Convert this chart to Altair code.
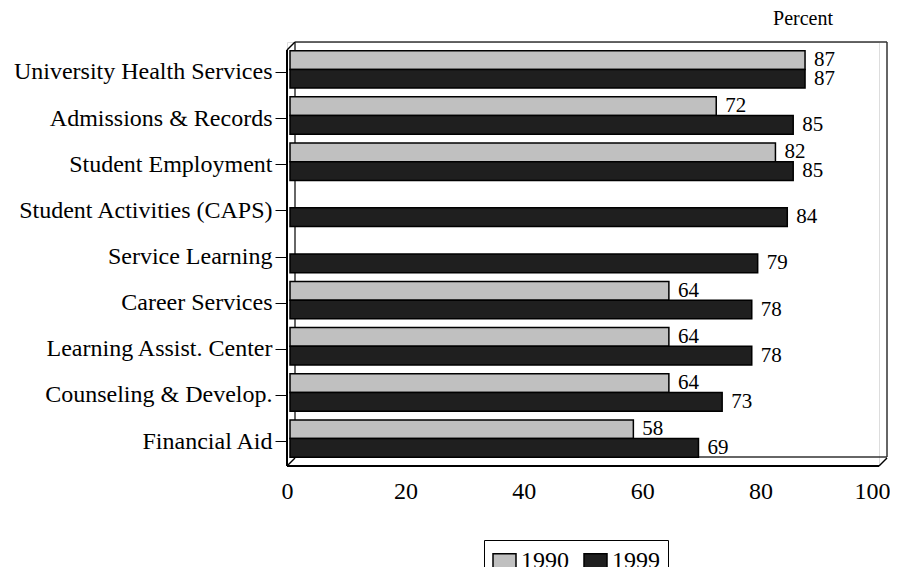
import altair as alt
import pandas as pd

categories = [
    "University Health Services",
    "Admissions & Records",
    "Student Employment",
    "Student Activities (CAPS)",
    "Service Learning",
    "Career Services",
    "Learning Assist. Center",
    "Counseling & Develop.",
    "Financial Aid",
]
values_1990 = [87, 72, 82, None, None, 64, 64, 64, 58]
values_1999 = [87, 85, 85, 84, 79, 78, 78, 73, 69]
years = ["1990", "1999"]
colors = ["#C0C0C0", "#1F1F1F"]
x_ticks = [0, 20, 40, 60, 80, 100]

rows = []
for c, a, b in zip(categories, values_1990, values_1999):
    if a is not None:
        rows.append({"category": c, "year": "1990", "value": a})
    if b is not None:
        rows.append({"category": c, "year": "1999", "value": b})
df = pd.DataFrame(rows)

FONT = "'Liberation Serif', 'Times New Roman', Times, serif"

x_enc = alt.X(
    "value:Q",
    scale=alt.Scale(domain=[0, 100]),
    axis=alt.Axis(values=x_ticks, title=None, domain=False, ticks=False, grid=False,
                  labelFlush=False, labelFontSize=24, labelFont=FONT, labelColor="black",
                  labelPadding=13,
                  labelOffset={"condition": {"test": "datum.value == 100", "value": -7},
                               "value": 0}),
)
y_enc = alt.Y(
    "category:N",
    sort=categories,
    scale=alt.Scale(range=[7.3, 422.7], paddingInner=0.19, paddingOuter=0.095),
    axis=alt.Axis(title=None, domain=False, ticks=True, tickSize=12, tickColor="black",
                  tickWidth=1, labelFontSize=24, labelFont=FONT, labelColor="black",
                  labelPadding=3, labelLimit=400),
)
yoff_enc = alt.YOffset("year:N", scale=alt.Scale(domain=years, range=[-3, 34.39]))
color_enc = alt.Color(
    "year:N",
    title=None,
    scale=alt.Scale(domain=years, range=colors),
    legend=alt.Legend(
        orient="none", legendX=197, legendY=498, direction="horizontal",
        padding=8, strokeColor="black", fillColor="white",
        symbolType="M-1,-0.61H1V0.61H-1Z", symbolSize=529,
        symbolStrokeColor="black", symbolStrokeWidth=1.5, symbolOpacity=1,
        labelFontSize=24, labelFont=FONT, labelColor="black", labelOffset=4,
        columnPadding=12,
        labelExpr="datum.label == '1999' ? '1999\u2002' : datum.label",
    ),
)

base = alt.Chart(df)

bars = base.mark_bar(xOffset=3, stroke="black", strokeWidth=1.5, opacity=1).encode(
    x=x_enc, y=y_enc, yOffset=yoff_enc, color=color_enc
)
labels = base.mark_text(align="left", baseline="middle", dx=12, dy=0,
                        fontSize=21, font=FONT, color="black").encode(
    x="value:Q", y=alt.Y("category:N", sort=categories), yOffset=yoff_enc, text="value:Q"
)

one = pd.DataFrame({"a": [0]})


def seg(x1, y1, x2, y2, color="#333333", width=1.5):
    return alt.Chart(one).mark_rule(color=color, strokeWidth=width).encode(
        x=alt.value(x1), y=alt.value(y1), x2=alt.value(x2), y2=alt.value(y2)
    )


back = [
    seg(8, 0, 600, 0),
    seg(600, 0, 600, 415),
    seg(8, 0, 8, 415),
    seg(8, 415, 600, 415),
]
front = [
    seg(0, 8, 0, 424, "black", 2),
    seg(0, 424, 592, 424, "black", 2),
    seg(0, 8, 8, 0, "black", 1.5),
    seg(0, 424, 8, 416, "black", 1.5),
    seg(592, 424, 600, 416, "black", 1.5),
]

chart = alt.layer(*back, bars, labels, *front).properties(
    width=592,
    height=424,
    padding={"left": 279, "top": 34, "right": 11, "bottom": 101},
    autosize=alt.AutoSizeParams(type="none"),
    title=alt.Title("Percent", anchor="end", fontSize=20, font=FONT, fontWeight="normal",
                    color="black", offset=12, dx=-57),
).configure_view(stroke="transparent").configure(background="white")

chart.save("out.html", embed_options={"renderer": "svg", "actions": False})
